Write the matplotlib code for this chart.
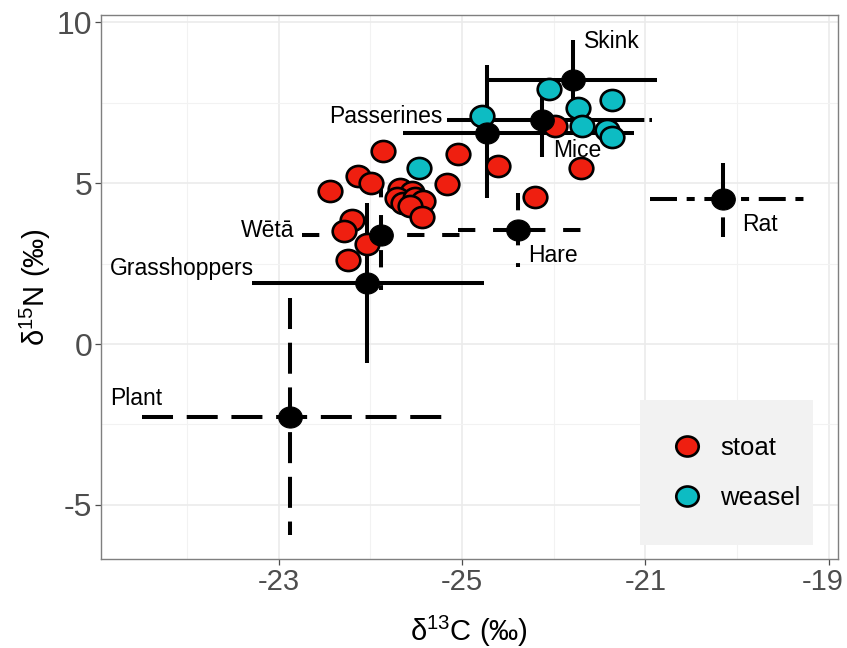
import matplotlib
matplotlib.use("Agg")
import matplotlib.pyplot as plt
from matplotlib.path import Path
from matplotlib import font_manager
from matplotlib.font_manager import FontProperties
from matplotlib.ticker import FixedLocator
from matplotlib.patches import Rectangle
from matplotlib.transforms import ScaledTranslation

# ---------------- data ----------------
stoat_x = [-23.86, -23.04, -24.14, -23.99, -23.16, -24.44, -23.68, -23.55, -23.71, -23.64,
           -23.51, -23.43, -23.57, -23.44, -24.20, -24.29, -24.04, -24.25, -22.61, -22.21,
           -21.99, -21.70]
stoat_y = [5.99, 5.90, 5.22, 5.00, 4.97, 4.75, 4.81, 4.72, 4.53, 4.38,
           4.53, 4.44, 4.29, 3.94, 3.85, 3.51, 3.11, 2.61, 5.53, 4.57,
           6.77, 5.47]
weasel_x = [-22.05, -22.78, -21.37, -21.74, -21.69, -21.42, -21.36, -23.47]
weasel_y = [7.92, 7.08, 7.58, 7.33, 6.77, 6.65, 6.43, 5.47]

sources  = ["Skink", "Passerines", "Mice", "Wētā", "Grasshoppers", "Hare", "Rat", "Plant"]
src_x    = [-21.79, -22.73, -22.13, -23.88, -24.04, -22.39, -20.15, -24.88]
src_y    = [8.20, 6.55, 6.96, 3.39, 1.89, 3.54, 4.50, -2.27]
src_xlo  = [-22.71, -23.65, -23.17, -24.75, -25.29, -23.05, -20.95, -26.49]
src_xhi  = [-20.87, -21.12, -20.93, -23.00, -22.76, -21.66, -19.26, -23.19]
src_ylo  = [6.96, 4.53, 5.81, 1.68, -0.59, 2.39, 3.32, -5.93]
src_yhi  = [9.44, 8.66, 8.11, 5.09, 4.38, 4.69, 5.62, 1.43]

x_tick_pos = [-25, -23, -21, -19]
x_tick_labels = ["-23", "-25", "-21", "-19"]
y_tick_pos = [-5, 0, 5, 10]
y_tick_labels = ["-5", "0", "5", "10"]
legend_labels = ["stoat", "weasel"]

# ---------------- styles ----------------
names = {f.name for f in font_manager.fontManager.ttflist}
REG = "Liberation Sans" if "Liberation Sans" in names else "DejaVu Sans"
NAR = "Liberation Sans Narrow" if "Liberation Sans Narrow" in names else REG
narrow_ok = NAR != REG

plt.rcParams["font.family"] = [REG, "DejaVu Sans"]
plt.rcParams["mathtext.fontset"] = "custom"
plt.rcParams["mathtext.rm"] = NAR
plt.rcParams["mathtext.it"] = NAR
plt.rcParams["mathtext.bf"] = NAR

TITLE_SIZE = 25 if narrow_ok else 21
LEG_SIZE = 22 if narrow_ok else 18.5

STOAT = "#EF1F10"
WEASEL = "#0DBCC3"
LW = 2.9
line_styles = {
    "Skink": "-",
    "Passerines": "-",
    "Grasshoppers": "-",
    "Mice": (0, (49, 1.25)),
    "Wētā": (0, (4.3, 4.4)),
    "Hare": (0, (4.3, 4.4)),
    "Rat": (0, (6.7, 2.4, 2.0, 2.4)),
    "Plant": (0, (7.7, 3.4)),
}
# label offsets (points) relative to source mean, and alignment
label_off = {
    "Skink": (8, 23, "left"),
    "Passerines": (-32, 7, "right"),
    "Mice": (8, -26.5, "left"),
    "Wētā": (-62.5, -1.4, "right"),
    "Grasshoppers": (-81.5, 5.8, "right"),
    "Hare": (7.2, -23, "left"),
    "Rat": (13.7, -23, "left"),
    "Plant": (-129.6, 8.6, "left"),
}

circ = Path.unit_circle()
ELL = Path(circ.vertices * [1.12, 1.0], circ.codes)

fig = plt.figure(figsize=(8.47, 6.48), dpi=100)
ax = fig.add_axes([0.1192, 0.1373, 0.8701, 0.8395])

# error bars
for i, s in enumerate(sources):
    ls = line_styles[s]
    ax.plot([src_xlo[i], src_xhi[i]], [src_y[i], src_y[i]], color="black", lw=LW,
            linestyle=ls, solid_capstyle="butt", dash_capstyle="butt", zorder=2)
    ax.plot([src_x[i], src_x[i]], [src_yhi[i], src_ylo[i]], color="black", lw=LW,
            linestyle=ls, solid_capstyle="butt", dash_capstyle="butt", zorder=2)

# consumers
h_st, = ax.plot(stoat_x, stoat_y, linestyle="none", marker=ELL, ms=17, mfc=STOAT,
                mec="black", mew=1.9, zorder=4)
h_we, = ax.plot(weasel_x, weasel_y, linestyle="none", marker=ELL, ms=17, mfc=WEASEL,
                mec="black", mew=1.9, zorder=4)

# source means
ax.plot(src_x, src_y, linestyle="none", marker=ELL, ms=17, mfc="black", mec="black",
        mew=0.8, zorder=5)

for i, s in enumerate(sources):
    dx, dy, ha = label_off[s]
    ax.annotate(s, (src_x[i], src_y[i]), xytext=(dx, dy), textcoords="offset points",
                ha=ha, va="baseline", fontsize=16.5, family=[REG, "DejaVu Sans"],
                color="black", zorder=6)

ax.set_xlim(-26.94, -18.90)
ax.set_ylim(-6.68, 10.22)
ax.xaxis.set_major_locator(FixedLocator(x_tick_pos))
ax.set_xticklabels(x_tick_labels)
ax.yaxis.set_major_locator(FixedLocator(y_tick_pos))
ax.set_yticklabels(y_tick_labels)
ax.xaxis.set_minor_locator(FixedLocator([-26, -24, -22, -20]))
ax.yaxis.set_minor_locator(FixedLocator([-2.5, 2.5, 7.5]))
ax.tick_params(which="major", colors="#4D4D4D", length=4.3, width=0.9, pad=2)
ax.tick_params(axis="y", which="major", labelsize=23)
ax.tick_params(axis="x", which="major", labelsize=21)
ax.tick_params(which="minor", length=0)
for lab in ax.get_xticklabels() + ax.get_yticklabels():
    lab.set_color("#4D4D4D")
# keep the last x tick label inside the figure
last = ax.get_xticklabels()[-1]
last.set_transform(last.get_transform() + ScaledTranslation(-6 / 100, 0, fig.dpi_scale_trans))

ax.set_axisbelow(True)
ax.grid(which="major", color="#EBEBEB", lw=1.2)
ax.grid(which="minor", color="#F2F2F2", lw=0.8)
for sp in ax.spines.values():
    sp.set_color("#7F7F7F")
    sp.set_linewidth(1.0)

ax.set_xlabel(r"δ$^{13}$C (‰)", fontsize=TITLE_SIZE, family=[NAR, "DejaVu Sans"],
              labelpad=13)
ax.set_ylabel(r"δ$^{15}$N (‰)", fontsize=TITLE_SIZE, family=[NAR, "DejaVu Sans"],
              labelpad=3)

# legend panel
ax.add_patch(Rectangle((0.731, 0.0257), 0.235, 0.2665, transform=ax.transAxes,
                       facecolor="#F2F2F2", edgecolor="none", zorder=6))
fs_px = LEG_SIZE / 72 * 100
leg = ax.legend([h_st, h_we], legend_labels, loc="center left",
                bbox_to_anchor=(0.7748, 0.158),
                frameon=False, prop=FontProperties(family=NAR, size=LEG_SIZE),
                borderpad=0, borderaxespad=0,
                labelspacing=1.0, handlelength=30 / fs_px, handletextpad=18 / fs_px,
                markerscale=0.95)
leg.set_zorder(7)

fig.savefig("out.png", dpi=100)
